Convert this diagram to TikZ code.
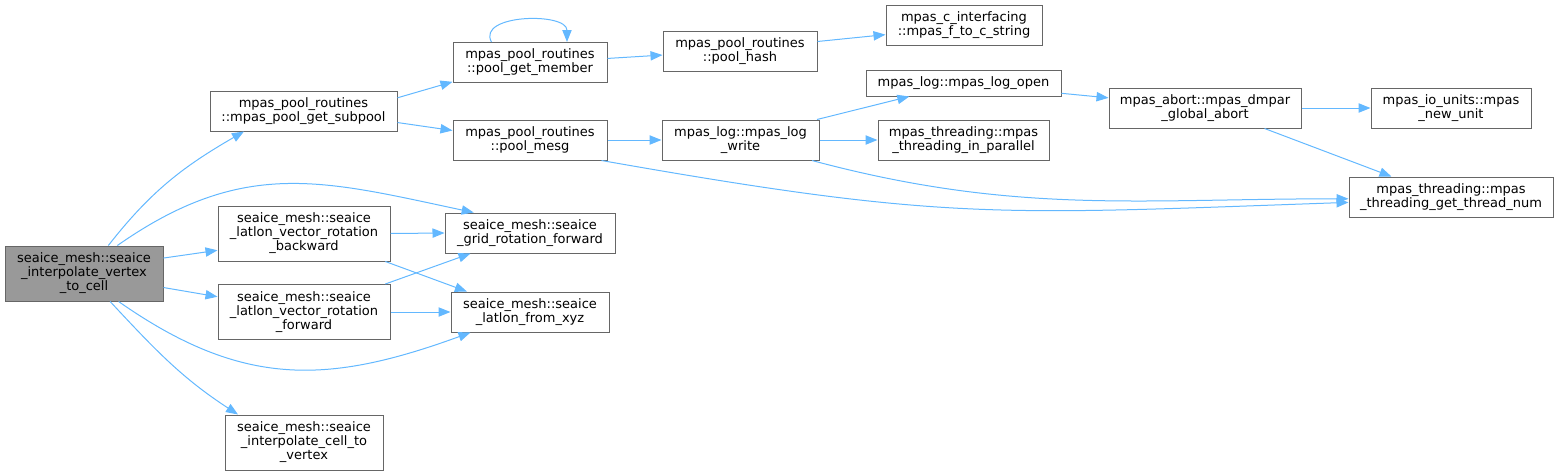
\documentclass[tikz,border=0pt]{standalone}
\usepackage{fontspec}
\setmainfont{DejaVu Sans}
\usetikzlibrary{arrows.meta}
\definecolor{rootfill}{RGB}{153,153,153}
\definecolor{fndraw}{RGB}{102,102,102}
\definecolor{calldraw}{RGB}{99,184,255}

\begin{document}
\begin{tikzpicture}[
  x=0.75pt, y=-0.75pt,
  font=\fontsize{9.75}{10.5}\selectfont,
  fn/.style={draw=fndraw, fill=white, line width=0.75pt, align=center,
             inner sep=0pt, minimum height=30pt},
  fnthree/.style={fn, minimum height=41.25pt},
  call/.style={-{Triangle[length=9pt,width=7pt]}, draw=calldraw, line width=0.75pt}
]
\useasboundingbox (0,0) rectangle (1559,475);

% Root of the call graph
\node[fnthree, fill=rootfill, minimum width=118.5pt] (main) at (84,273.5)
  {seaice\_mesh::seaice\\\_interpolate\_vertex\\\_to\_cell};

% First level callees
\node[fn, minimum width=140.25pt] (subpool) at (303.5,111)
  {mpas\_pool\_routines\\::mpas\_pool\_get\_subpool};
\node[fnthree, minimum width=129pt] (rotback) at (304,233.5)
  {seaice\_mesh::seaice\\\_latlon\_vector\_rotation\\\_backward};
\node[fnthree, minimum width=129pt] (rotfwd) at (304,312)
  {seaice\_mesh::seaice\\\_latlon\_vector\_rotation\\\_forward};
\node[fnthree, minimum width=118.5pt] (celltovertex) at (304,442.5)
  {seaice\_mesh::seaice\\\_interpolate\_cell\_to\\\_vertex};

% Second level
\node[fn, minimum width=115.5pt] (getmember) at (530,62.5)
  {mpas\_pool\_routines\\::pool\_get\_member};
\node[fn, minimum width=115.5pt] (poolmesg) at (530,140)
  {mpas\_pool\_routines\\::pool\_mesg};
\node[fn, minimum width=127.5pt] (gridrot) at (530,233)
  {seaice\_mesh::seaice\\\_grid\_rotation\_forward};
\node[fn, minimum width=118.5pt] (latlonxyz) at (530,312)
  {seaice\_mesh::seaice\\\_latlon\_from\_xyz};

% Third level
\node[fn, minimum width=115.5pt] (poolhash) at (740,51)
  {mpas\_pool\_routines\\::pool\_hash};
\node[fn, minimum width=117.75pt] (logwrite) at (740.5,140)
  {mpas\_log::mpas\_log\\\_write};

% Fourth level
\node[fn, minimum width=117pt] (ftoc) at (964,25)
  {mpas\_c\_interfacing\\::mpas\_f\_to\_c\_string};
\node[fn, minimum width=146.25pt, minimum height=19.5pt] (logopen) at (963.5,83)
  {mpas\_log::mpas\_log\_open};
\node[fn, minimum width=128.25pt] (inparallel) at (963.5,140)
  {mpas\_threading::mpas\\\_threading\_in\_parallel};

% Fifth level and beyond
\node[fn, minimum width=144pt] (dmpar) at (1205,108)
  {mpas\_abort::mpas\_dmpar\\\_global\_abort};
\node[fn, minimum width=120pt] (newunit) at (1451,108)
  {mpas\_io\_units::mpas\\\_new\_unit};
\node[fn, minimum width=153pt] (threadnum) at (1451,197)
  {mpas\_threading::mpas\\\_threading\_get\_thread\_num};

% Calls from the root
\draw[call] (main.49) to[out=52, in=210] (subpool.199);
\draw[call] (main.40) to[out=35, in=168, looseness=1.1] (gridrot.160);
\draw[call] (main.11) -- (rotback.191);
\draw[call] (main.350) -- (rotfwd.170);
\draw[call] (main.321) to[out=-35, in=200, looseness=1.1] (latlonxyz.199);
\draw[call] (main.313) to[out=-47, in=147] (celltovertex.157);

% Rotation helpers
\draw[call] (rotback.east) -- (gridrot.west);
\draw[call] (rotback.341) -- (latlonxyz.162);
\draw[call] (rotfwd.19) -- (gridrot.199);
\draw[call] (rotfwd.east) -- (latlonxyz.west);

% Pool routines
\draw[call] (subpool.8) -- (getmember.194);
\draw[call] (subpool.353) -- (poolmesg.173);
\draw[call] (getmember.152) .. controls +(-15,-28) and +(0,-30) .. (getmember.29);
\draw[call] (getmember.3) -- (poolhash.183);
\draw[call] (poolhash.7) -- (ftoc.187);
\draw[call] (poolmesg.east) -- (logwrite.west);
\draw[call] (poolmesg.344) to[out=-10, in=182, looseness=1.2] (threadnum.183);

% Logging
\draw[call] (logwrite.15) -- (logopen.194);
\draw[call] (logwrite.east) -- (inparallel.west);
\draw[call] (logwrite.344) to[out=-15, in=180] (threadnum.181);
\draw[call] (logopen.354) -- (dmpar.174);
\draw[call] (dmpar.east) -- (newunit.west);
\draw[call] (dmpar.341) -- (threadnum.161);

\end{tikzpicture}
\end{document}
